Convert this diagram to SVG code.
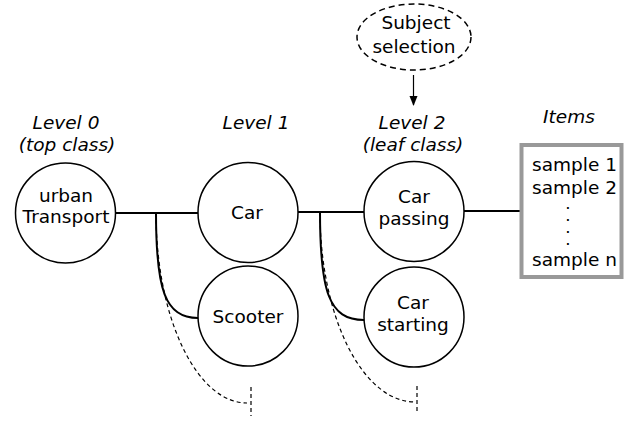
<svg xmlns="http://www.w3.org/2000/svg" width="632" height="421" viewBox="0 0 632 421">
<defs>
<style>
text{font-family:"DejaVu Sans","Liberation Sans",sans-serif;font-size:18.5px;fill:#000;text-anchor:middle}
.lvl{font-style:italic}
.node{fill:#fff;stroke:#000;stroke-width:1.5}
.conn{fill:none;stroke:#000;stroke-width:2}
.dash{fill:none;stroke:#000;stroke-width:1.2;stroke-dasharray:4,3}
.items text{text-anchor:start}
.items text.dot{text-anchor:middle;font-size:10px;font-weight:bold}
</style>
<marker id="arr" markerWidth="10" markerHeight="10" refX="9" refY="5" orient="auto" markerUnits="userSpaceOnUse">
<path d="M0,1 L10,5 L0,9 Z" fill="#000"/>
</marker>
</defs>
<g id="labels">
<text class="lvl" x="66" y="129">Level 0</text>
<text class="lvl" x="67" y="151">(top class)</text>
<text class="lvl" x="256" y="129">Level 1</text>
<text class="lvl" x="412" y="129">Level 2</text>
<text class="lvl" x="413" y="151">(leaf class)</text>
<text class="lvl" x="569" y="123">Items</text>
</g>
<g id="connectors">
<line class="conn" x1="115" y1="213" x2="198" y2="213"/>
<line class="conn" x1="298" y1="212" x2="364" y2="212"/>
<line class="conn" x1="464" y1="211" x2="521" y2="211"/>
<path class="conn" d="M156,213 C156,290 165,318 198,318"/>
<path class="conn" d="M320,212 C320,292 329,320 364,320"/>
<path class="dash" d="M156,213 A91,190 0 0 0 247,403"/>
<line class="dash" x1="251" y1="387" x2="251" y2="416"/>
<path class="dash" d="M320,212 A95,190 0 0 0 415,402"/>
<line class="dash" x1="417" y1="386" x2="417" y2="414"/>
<line x1="413.5" y1="75" x2="413.5" y2="105" stroke="#000" stroke-width="1.2" marker-end="url(#arr)"/>
</g>
<g id="urban-transport">
<circle class="node" cx="65.5" cy="213" r="50"/>
<text x="66" y="202">urban</text>
<text x="66" y="223">Transport</text>
</g>
<g id="car">
<circle class="node" cx="248" cy="212.5" r="50"/>
<text x="247" y="219">Car</text>
</g>
<g id="scooter">
<circle class="node" cx="248" cy="316" r="50"/>
<text x="248" y="323">Scooter</text>
</g>
<g id="car-passing">
<circle class="node" cx="414" cy="211.5" r="50"/>
<text x="414" y="203">Car</text>
<text x="414" y="225">passing</text>
</g>
<g id="car-starting">
<circle class="node" cx="414" cy="317" r="50"/>
<text x="413" y="309">Car</text>
<text x="413" y="331">starting</text>
</g>
<g id="subject-selection">
<ellipse cx="414" cy="37" rx="57" ry="33" fill="#fff" stroke="#000" stroke-width="1.5" stroke-dasharray="6,4"/>
<text x="416" y="29">Subject</text>
<text x="414" y="53">selection</text>
</g>
<g id="items" class="items">
<rect x="521.5" y="145" width="100" height="132" fill="#fff" stroke="#999" stroke-width="4"/>
<text x="532" y="171">sample 1</text>
<text x="532" y="194">sample 2</text>
<text class="dot" x="568" y="209">.</text>
<text class="dot" x="568" y="221">.</text>
<text class="dot" x="568" y="233">.</text>
<text class="dot" x="568" y="245">.</text>
<text x="532" y="266">sample n</text>
</g>
</svg>
